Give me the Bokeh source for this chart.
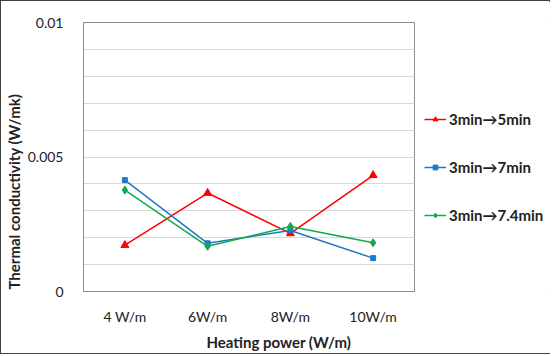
from bokeh.plotting import figure
from bokeh.layouts import row
from bokeh.models import (Legend, LegendItem, FixedTicker, NumeralTickFormatter,
                          Title, ColumnDataSource)
from bokeh.embed import file_html
from bokeh.resources import INLINE

# Heating power categories and thermal conductivity (W/mK) per time window
categories = ["4 W/m", "6W/m", "8W/m", "10W/m"]
series_5min = [0.00172, 0.00366, 0.00216, 0.00432]
series_7min = [0.00414, 0.00179, 0.00227, 0.00124]
series_74min = [0.00377, 0.00168, 0.00242, 0.00181]
series_names = ["3min\u21925min", "3min\u21927min", "3min\u21927.4min"]
y_ticks = [0, 0.005, 0.01]

FONT = "Lato"
TEXT = "#222222"

# main chart
p = figure(width=414, height=354, x_range=categories, y_range=(0, 0.01),
           output_backend="svg", toolbar_location=None,
           min_border_left=81, min_border_right=1,
           min_border_top=21, min_border_bottom=60)
p.outline_line_color = "#8c8c8c"
p.outline_line_width = 1

p.yaxis.ticker = FixedTicker(ticks=y_ticks)
p.yaxis.formatter = NumeralTickFormatter(format="0.[000]")
p.ygrid.ticker = FixedTicker(ticks=[i * 0.001 for i in range(11)])
p.ygrid.grid_line_color = "#d9d9d9"
p.xgrid.grid_line_color = None
for ax in (p.xaxis, p.yaxis):
    ax.major_tick_line_color = None
    ax.minor_tick_line_color = None
    ax.axis_line_color = "#8c8c8c"
    ax.major_label_text_font = FONT
    ax.major_label_text_font_size = "14px"
    ax.major_label_text_color = TEXT
p.yaxis.major_label_standoff = 14
p.xaxis.major_label_standoff = 10

styles = [
    ("#ff0000", "triangle", 8),
    ("#1e78c8", "square", 5),
    ("#12a84c", "diamond", 8),
]
all_series = [series_5min, series_7min, series_74min]
for vals, (color, marker, size) in zip(all_series, styles):
    src = ColumnDataSource(dict(x=categories, y=vals))
    p.line("x", "y", source=src, line_color=color, line_width=1.5)
    p.scatter("x", "y", source=src, marker=marker, size=size,
              fill_color=color, line_color=color)

# axis titles
p.add_layout(Title(text="Heating power (W/m)", align="left", offset=123,
                   text_font=FONT, text_font_style="bold",
                   text_font_size="15px", text_color=TEXT, standoff=6),
             "below")
p.add_layout(Title(text="Thermal conductivity (W/mk)", align="left",
                   offset=2, text_font=FONT, text_font_style="bold",
                   text_font_size="15px", text_color=TEXT, standoff=3),
             "left")

# legend panel to the right of the chart (hidden copies of the series
# only supply the legend glyphs)
lg = figure(width=136, height=354, x_range=categories, y_range=(0, 0.01),
            x_axis_type=None, y_axis_type=None,
            output_backend="svg", toolbar_location=None,
            min_border=0, outline_line_color=None)
lg.grid.visible = False
items = []
for vals, name, (color, marker, size) in zip(all_series, series_names, styles):
    src = ColumnDataSource(dict(x=categories, y=vals))
    r1 = lg.line("x", "y", source=src, line_color=color, line_width=1.5,
                 visible=False)
    r2 = lg.scatter("x", "y", source=src, marker=marker, size=size,
                    fill_color=color, line_color=color, visible=False)
    items.append(LegendItem(label=name, renderers=[r1, r2]))
legend = Legend(items=items, location=(9, 66), orientation="vertical",
                border_line_color=None, background_fill_alpha=0,
                inactive_fill_alpha=0,
                label_text_font=FONT, label_text_font_style="bold",
                label_text_font_size="15px", label_text_color=TEXT,
                glyph_width=22, glyph_height=12, label_height=20,
                label_standoff=3, spacing=28, padding=0, margin=0)
lg.add_layout(legend, "center")

layout = row(p, lg, spacing=0)
layout.styles = {"border": "1px solid #404040", "width": "550px",
                 "height": "354px"}

open("out.html", "w").write(file_html(layout, INLINE))
